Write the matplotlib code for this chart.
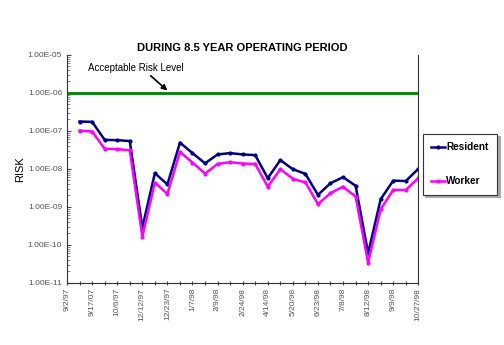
import matplotlib
matplotlib.use("Agg")
import matplotlib.pyplot as plt
import numpy as np

plt.rcParams['font.family'] = ['Liberation Sans', 'DejaVu Sans']

# categories (first date has no data point)
dates = ["9/2/97", "", "9/17/07", "", "10/6/97", "", "12/12/97", "", "12/23/97", "",
         "1/7/98", "", "2/9/98", "", "2/24/98", "", "4/14/98", "", "5/20/98", "",
         "6/23/98", "", "7/8/98", "", "8/12/98", "", "9/9/98", "", "10/27/98"]

resident = [1.76e-7, 1.73e-7, 5.8e-8, 5.7e-8, 5.4e-8, 2.85e-10, 7.7e-9, 3.9e-9,
            4.9e-8, 2.6e-8, 1.4e-8, 2.4e-8, 2.6e-8, 2.4e-8, 2.3e-8, 5.7e-9,
            1.7e-8, 9.8e-9, 7.4e-9, 2.07e-9, 4.2e-9, 6.05e-9, 3.6e-9, 6.05e-11,
            1.6e-9, 4.9e-9, 4.8e-9, 1.0e-8]
worker = [1.02e-7, 9.6e-8, 3.4e-8, 3.3e-8, 3.1e-8, 1.65e-10, 4.35e-9, 2.2e-9,
          2.8e-8, 1.47e-8, 7.5e-9, 1.35e-8, 1.5e-8, 1.38e-8, 1.35e-8, 3.4e-9,
          9.8e-9, 5.5e-9, 4.4e-9, 1.18e-9, 2.3e-9, 3.4e-9, 1.87e-9, 3.4e-11,
          8.7e-10, 2.8e-9, 2.8e-9, 5.7e-9]
acceptable = 1e-6

x = np.arange(1, len(resident) + 1)

fig = plt.figure(figsize=(5.04, 3.45), dpi=100)
ax = fig.add_axes([0.133, 0.180, 0.697, 0.661])

ax.plot(x, resident, color='#000080', linewidth=1.8, marker='o', markersize=2, label='Resident')
ax.plot(x, worker, color='#ff00ff', linewidth=1.8, marker='o', markersize=2, label='Worker')
ax.axhline(acceptable, color='#008000', linewidth=2)

ax.set_yscale('log')
ax.set_ylim(1e-11, 1e-5)
ax.set_xlim(0, len(dates) - 1)
ax.set_yticks([10.0 ** e for e in range(-11, -4)])
ax.set_yticklabels(["%.2E" % (10.0 ** e) for e in range(-11, -4)])
ax.yaxis.set_minor_locator(matplotlib.ticker.LogLocator(base=10, subs=np.arange(2, 10)))
ax.yaxis.set_minor_formatter(matplotlib.ticker.NullFormatter())
ax.tick_params(axis='y', which='major', labelsize=6, length=3, direction='in', colors='#444444', labelcolor='#555555')
ax.tick_params(axis='y', which='minor', length=2, direction='in', colors='#777777')

ax.set_xticks(np.arange(len(dates)))
ax.set_xticklabels(dates, rotation=90, fontsize=6, color='#555555')
ax.tick_params(axis='x', length=3, direction='inout', colors='#444444', labelcolor='#555555', pad=2)

for s in ['top', 'right', 'bottom', 'left']:
    ax.spines[s].set_color('#333333')
    ax.spines[s].set_linewidth(0.8)
ax.spines['top'].set_visible(False)

ax.set_ylabel("RISK", fontsize=8, labelpad=2)
ax.set_title("DURING 8.5 YEAR OPERATING PERIOD", fontsize=8, fontweight='bold', pad=3)

ax.annotate("Acceptable Risk Level", xy=(8, 1.15e-6), xytext=(1.7, 4.5e-6),
            fontsize=7, ha='left', va='center',
            arrowprops=dict(arrowstyle='-|>', color='black', lw=1.2, mutation_scale=8,
                            shrinkA=0, shrinkB=0, relpos=(0.62, 0.0)))

leg = ax.legend(loc='upper left', bbox_to_anchor=(1.012, 0.655), frameon=True,
                fancybox=False, shadow={'color': '#aaaaaa', 'alpha': 1}, borderpad=0.85, labelspacing=2.4,
                handlelength=1.4, handletextpad=0.1, borderaxespad=0,
                prop={'weight': 'bold', 'size': 7.2})
leg.get_frame().set_edgecolor('#333333')
leg.get_frame().set_linewidth(0.8)

fig.savefig("out.png", dpi=100)
